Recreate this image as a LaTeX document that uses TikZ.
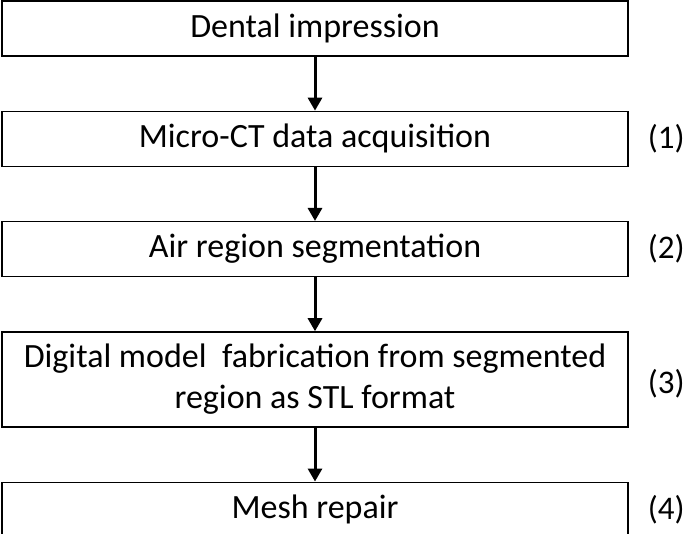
\documentclass[tikz,border=0pt]{standalone}
\usepackage{fontspec}
\setmainfont{Carlito}
\usetikzlibrary{positioning,arrows.meta}

\begin{document}
\begin{tikzpicture}
    [ x=1pt, y=1pt
    , node distance=54pt
    , stepbox/.style={draw, line width=1.3pt, minimum width=626pt, minimum height=55pt, align=center, font=\fontsize{34}{41}\selectfont, inner sep=0pt}
    , steplabel/.style={font=\fontsize{33}{40}\selectfont, inner sep=0pt}
    , flow/.style={-{Triangle[length=13pt,width=14pt]}, line width=3pt}
    ]
  \useasboundingbox (0,0) rectangle (685,-534);
  \node[stepbox] (imp) at (315,-28.5) {Dental impression};
  \node[stepbox, below=of imp] (ct) {Micro-CT data acquisition};
  \node[stepbox, below=of ct] (seg) {Air region segmentation};
  \node[stepbox, below=of seg, minimum height=95pt] (stl)
    {Digital model\ \ fabrication from segmented\\region as STL format};
  \node[stepbox, below=of stl] (mesh) {Mesh repair};
  % step numbers
  \node[steplabel, right=19pt of ct] (n1) {(1)};
  \node[steplabel, right=19pt of seg] (n2) {(2)};
  \node[steplabel, right=19pt of stl, yshift=-4pt] (n3) {(3)};
  \node[steplabel, right=19pt of mesh] (n4) {(4)};
  \draw[flow] (imp) -- (ct);
  \draw[flow] (ct) -- (seg);
  \draw[flow] (seg) -- (stl);
  \draw[flow] (stl) -- (mesh);
\end{tikzpicture}
\end{document}
